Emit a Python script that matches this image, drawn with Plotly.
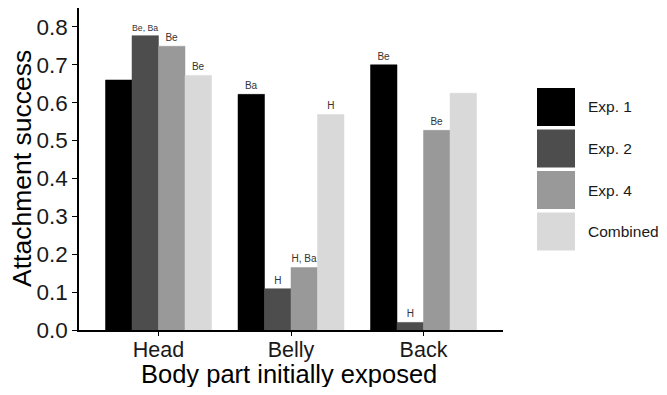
import plotly.graph_objects as go

categories = ["Head", "Belly", "Back"]
series_names = ["Exp. 1", "Exp. 2", "Exp. 4", "Combined"]
exp1 = [0.660, 0.622, 0.700]
exp2 = [0.777, 0.109, 0.020]
exp4 = [0.749, 0.165, 0.527]
combined = [0.672, 0.569, 0.625]
labels_exp1 = ["", "Ba", "Be"]
labels_exp2 = ["Be, Ba", "H", "H"]
labels_exp4 = ["Be", "H, Ba", "Be"]
labels_combined = ["Be", "H", ""]
colors = ["#000000", "#4d4d4d", "#999999", "#d9d9d9"]
yticks = [0.0, 0.1, 0.2, 0.3, 0.4, 0.5, 0.6, 0.7, 0.8]
x_title = "Body part initially exposed"
y_title = "Attachment success"

values = [exp1, exp2, exp4, combined]
texts = [labels_exp1, labels_exp2, labels_exp4, labels_combined]

FONT = "Liberation Sans, Arial, sans-serif"

fig = go.Figure()
for name, vals, txt, col in zip(series_names, values, texts, colors):
    fig.add_trace(go.Bar(
        x=categories, y=vals, name=name, text=txt,
        textposition="outside", textfont=dict(size=10, color="#333333", family=FONT),
        marker=dict(color=col, line=dict(color=col, width=0.5)),
        cliponaxis=False, showlegend=False,
    ))

# page body has an 8px margin: figure is drawn 8px right/down in the window;
# keep figure small enough that the page never scrolls
OFF = 8
W, H = 667 - 2 * OFF, 395 - 2 * OFF
PL, PR, PT, PB = 79, 503, 8, 330   # plot area in window pixels
ml, mr, mt, mb = PL - OFF, W - (PR - OFF), PT - OFF, H - (PB - OFF)
pw, ph = W - ml - mr, H - mt - mb
def px_to_paper_x(px):  # px in window coordinates
    return (px - OFF - ml) / pw
def px_to_paper_y(py):
    return (H - mb - (py - OFF)) / ph

shapes = []
annotations = []
# custom legend with large keys
for i, (name, col) in enumerate(zip(series_names, colors)):
    top = 88 + i * 41.5
    shapes.append(dict(type="rect", xref="paper", yref="paper",
                       x0=px_to_paper_x(537), x1=px_to_paper_x(575),
                       y0=px_to_paper_y(top + 38), y1=px_to_paper_y(top),
                       fillcolor=col, line=dict(width=0)))
    annotations.append(dict(xref="paper", yref="paper", x=px_to_paper_x(586),
                            y=px_to_paper_y(top + 19), text=name, showarrow=False,
                            xanchor="left", yanchor="middle",
                            font=dict(size=15.5, color="#1a1a1a", family=FONT)))

# axis titles
annotations.append(dict(xref="paper", yref="paper", x=px_to_paper_x(289),
                        y=px_to_paper_y(373.5), text=x_title, showarrow=False,
                        xanchor="center", yanchor="middle",
                        font=dict(size=25.5, color="#000000", family=FONT)))
annotations.append(dict(xref="paper", yref="paper", x=px_to_paper_x(22),
                        y=px_to_paper_y(169), text=y_title, showarrow=False,
                        xanchor="center", yanchor="middle", textangle=-90,
                        font=dict(size=26.5, color="#000000", family=FONT)))

fig.update_layout(
    width=W, height=H,
    margin=dict(l=ml, r=mr, t=mt, b=mb, pad=0, autoexpand=False),
    paper_bgcolor="white", plot_bgcolor="white",
    barmode="group", bargap=0.2, bargroupgap=0,
    font=dict(family=FONT, color="#000000"),
    shapes=shapes, annotations=annotations,
    showlegend=False,
)
fig.update_xaxes(
    range=[-0.6, 2.6], showline=True, linecolor="black", linewidth=1.5,
    ticks="outside", ticklen=4, tickcolor="black", tickwidth=1.2,
    tickfont=dict(size=21.5, color="#1a1a1a"), automargin=False,
    ticklabelstandoff=-5,
    showgrid=False, zeroline=False,
)
fig.update_yaxes(
    range=[0, 0.85], tickvals=yticks, ticktext=[f"{v:.1f}" for v in yticks],
    showline=True, linecolor="black", linewidth=1.5,
    ticks="outside", ticklen=5, tickcolor="black", tickwidth=1.2,
    tickfont=dict(size=22.5, color="#1a1a1a"), automargin=False,
    showgrid=False, zeroline=False,
)

fig.write_html("out.html")
